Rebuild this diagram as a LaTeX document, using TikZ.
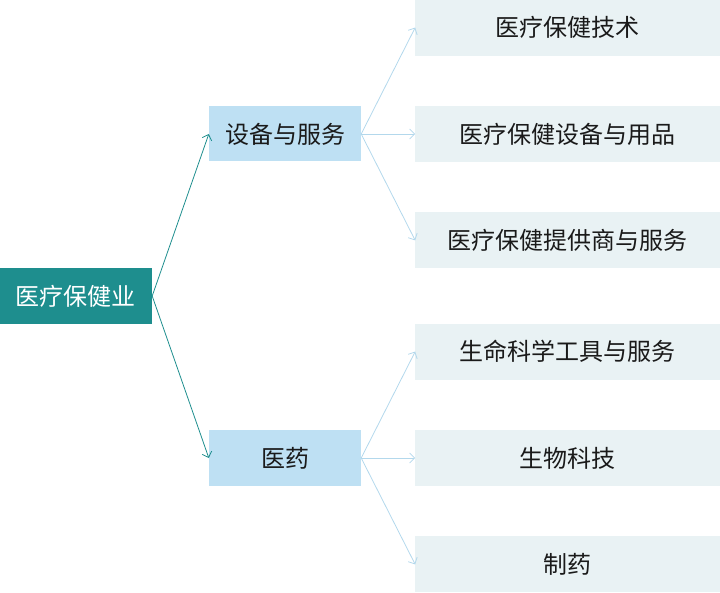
\documentclass[tikz,border=0pt]{standalone}
\usepackage{fontspec}
\setmainfont{Noto Sans CJK SC}
\usetikzlibrary{arrows.meta,positioning}
\definecolor{rootteal}{HTML}{1E8E8E}
\definecolor{midblue}{HTML}{BEE0F3}
\definecolor{leafgray}{HTML}{E9F2F4}
\definecolor{linkblue}{HTML}{B3D8EC}
\definecolor{inkgray}{HTML}{1A1A1A}

\begin{document}
\begin{tikzpicture}[
  x=1pt,y=1pt,
  box/.style={inner sep=0pt,align=center,font=\fontsize{24}{28}\selectfont,text=inkgray},
  root/.style={box,fill=rootteal,text=white,minimum width=152pt,minimum height=56pt},
  mid/.style={box,fill=midblue,minimum width=152pt,minimum height=55pt},
  leaf/.style={box,fill=leafgray,minimum width=305pt,minimum height=56pt},
  trunk/.style={-{Straight Barb[length=5pt,width=10pt]},rootteal,line width=0.8pt},
  twig/.style={-{Straight Barb[length=5pt,width=10pt]},linkblue,line width=0.8pt}
]
\useasboundingbox (0,0) rectangle (720,592);
\node[root] (health) at (76,296) {医疗保健业};
\node[mid] (equip) at (285,458) {设备与服务};
\node[mid] (pharma) at (285,134) {医药};
% equipment and services
\node[leaf,right=54pt of equip] (supplies) {医疗保健设备与用品};
\node[leaf,above=50pt of supplies] (tech) {医疗保健技术};
\node[leaf,below=50pt of supplies] (providers) {医疗保健提供商与服务};
% pharma
\node[leaf,right=54pt of pharma] (biotech) {生物科技};
\node[leaf,above=50pt of biotech] (lifesci) {生命科学工具与服务};
\node[leaf,below=50pt of biotech] (drugs) {制药};
\draw[trunk] (health.east) -- (equip.west);
\draw[trunk] (health.east) -- (pharma.west);
\draw[twig] (equip.east) -- (tech.west);
\draw[twig] (equip.east) -- (supplies.west);
\draw[twig] (equip.east) -- (providers.west);
\draw[twig] (pharma.east) -- (lifesci.west);
\draw[twig] (pharma.east) -- (biotech.west);
\draw[twig] (pharma.east) -- (drugs.west);
\end{tikzpicture}
\end{document}
